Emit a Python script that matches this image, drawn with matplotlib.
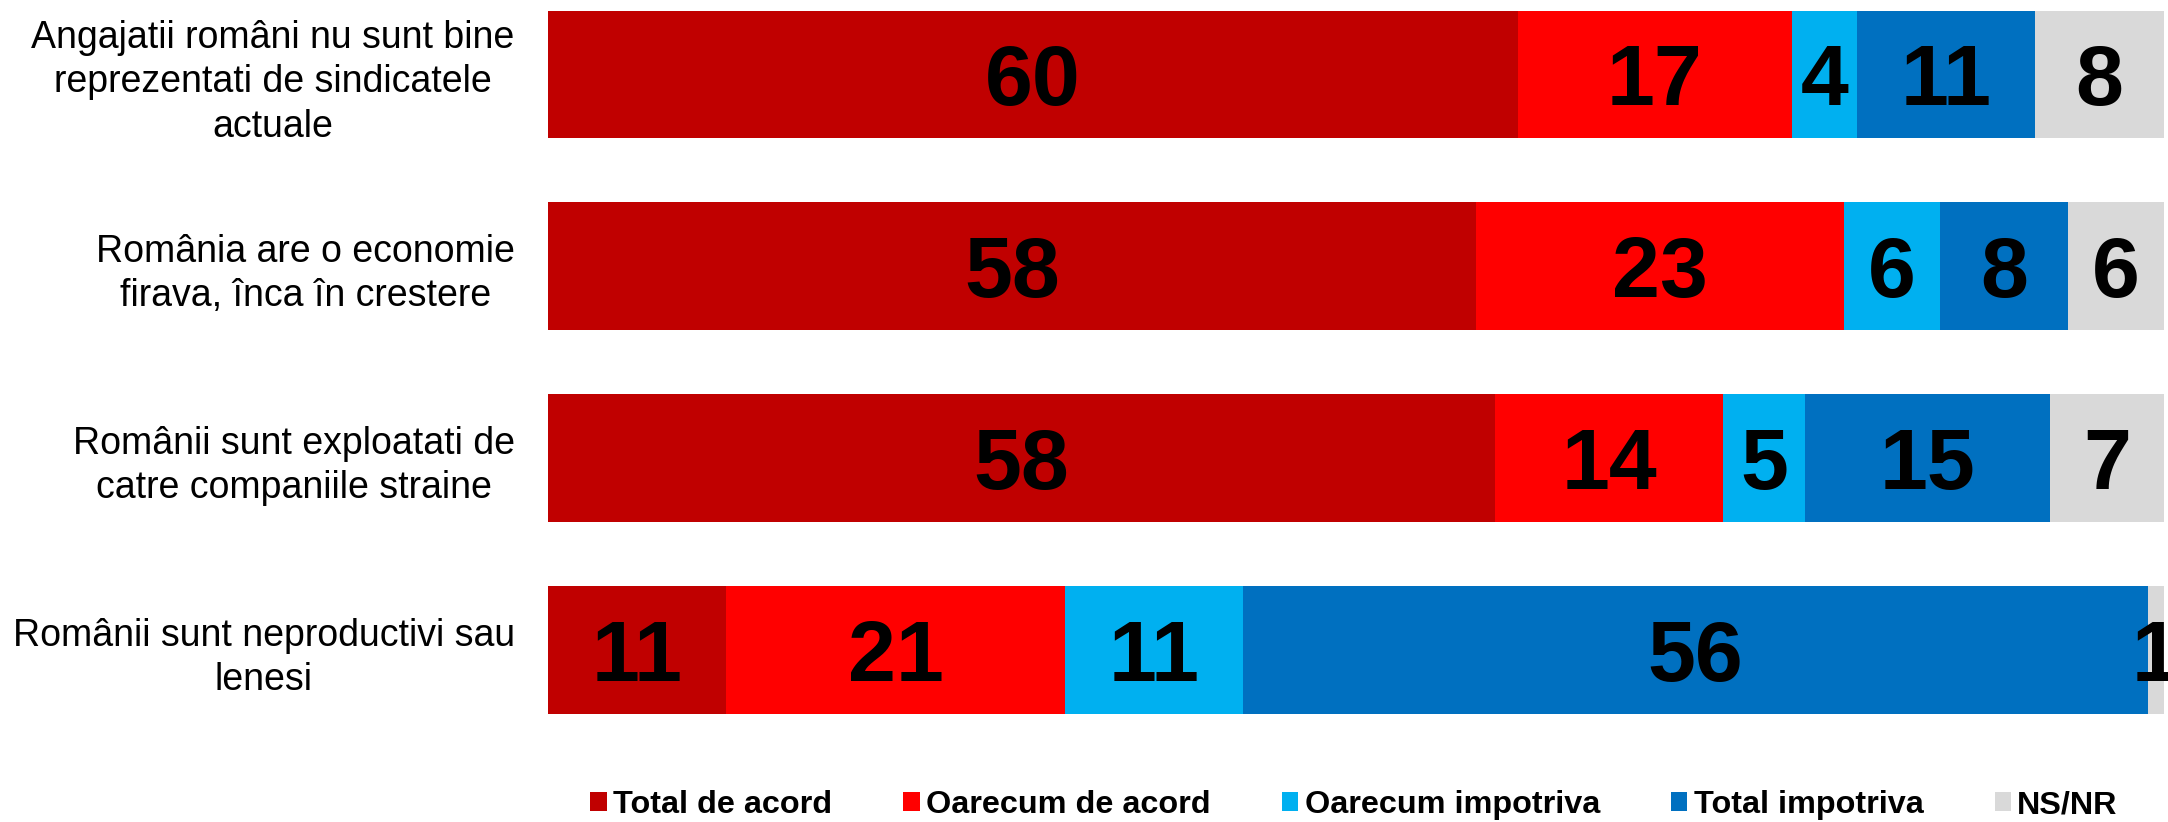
import matplotlib
matplotlib.use("Agg")
import matplotlib.pyplot as plt
from matplotlib.patches import Patch
import numpy as np

categories = [
    "Angajatii români nu sunt bine\nreprezentati de sindicatele\nactuale",
    "România are o economie\nfirava, înca în crestere",
    "Românii sunt exploatati de\ncatre companiile straine",
    "Românii sunt neproductivi sau\nlenesi",
]
series_names = ["Total de acord", "Oarecum de acord", "Oarecum impotriva", "Total impotriva", "NS/NR"]
total_de_acord = [60, 58, 58, 11]
oarecum_de_acord = [17, 23, 14, 21]
oarecum_impotriva = [4, 6, 5, 11]
total_impotriva = [11, 8, 15, 56]
ns_nr = [8, 6, 7, 1]
colors = ["#C00000", "#FF0000", "#00B0F0", "#0070C0", "#D9D9D9"]

plt.rcParams['font.family'] = ['Liberation Sans', 'DejaVu Sans']

W, H = 2168, 822
fig = plt.figure(figsize=(W / 100, H / 100), dpi=100)
ax = fig.add_axes([548 / W, (H - 746) / H, (2164 - 548) / W, (746 - 10.6) / H])

data = np.array([total_de_acord, oarecum_de_acord, oarecum_impotriva, total_impotriva, ns_nr], dtype=float)
totals = data.sum(axis=0)
pct = data / totals * 100
y = np.arange(len(categories))
left = np.zeros(len(categories))
for i, name in enumerate(series_names):
    ax.barh(y, pct[i], left=left, height=0.667, color=colors[i], edgecolor='none', label=name)
    for j in range(len(categories)):
        ax.annotate(f"{int(data[i, j])}", xy=(left[j] + pct[i, j] / 2, y[j]),
                    xytext=(0, -22.5), textcoords='offset points',
                    ha='center', va='baseline', fontsize=62, fontweight='bold',
                    color='black', annotation_clip=False, clip_on=False)
    left += pct[i]

ax.set_xlim(0, 100)
ax.set_ylim(3.5, -0.33)
ax.set_yticks(y)
ax.set_yticklabels(categories, fontsize=27, multialignment='center', linespacing=1.3)
ax.tick_params(axis='y', length=0, pad=24)
ax.set_xticks([])
for s in ax.spines.values():
    s.set_visible(False)

handles = [Patch(facecolor=c, edgecolor='none') for c in colors]
leg = fig.legend(handles, series_names, loc='center', bbox_to_anchor=(1354 / W, (H - 805) / H),
                 ncol=5, frameon=False, prop={'weight': 'bold', 'size': 23.3},
                 handlelength=0.5, handleheight=0.5, handletextpad=0.2,
                 columnspacing=2.2, borderpad=0, borderaxespad=0)

fig.savefig("out.png", dpi=100)
